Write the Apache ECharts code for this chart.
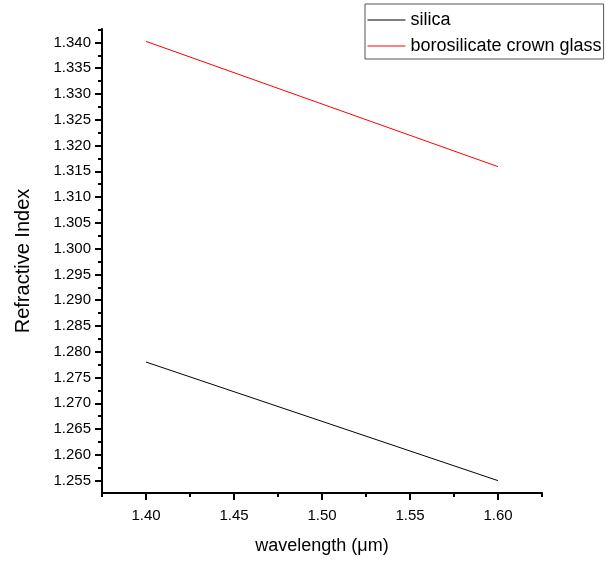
<!DOCTYPE html>
<html>
<head>
<meta charset="utf-8">
<script src="https://cdn.jsdelivr.net/npm/echarts@6/dist/echarts.min.js"></script>
<style>html,body{margin:0;padding:0;background:#fff}#c{width:606px;height:566px}</style>
</head>
<body>
<div id="c"></div>
<script>
const wavelength = [1.40, 1.60];
const silica = [1.278, 1.255];
const borosilicate = [1.3402, 1.3159];
const xMajorTicks = [1.40, 1.45, 1.50, 1.55, 1.60];
const xMinorTicks = [1.375, 1.425, 1.475, 1.525, 1.575, 1.625];
const yMajorTicks = [1.255, 1.260, 1.265, 1.270, 1.275, 1.280, 1.285, 1.290, 1.295, 1.300, 1.305, 1.310, 1.315, 1.320, 1.325, 1.330, 1.335, 1.340];
const yMinorTicks = [1.2525, 1.2575, 1.2625, 1.2675, 1.2725, 1.2775, 1.2825, 1.2875, 1.2925, 1.2975, 1.3025, 1.3075, 1.3125, 1.3175, 1.3225, 1.3275, 1.3325, 1.3375, 1.3425];
const xRange = [1.375, 1.625];
const yRange = [1.2526, 1.3426];

const font = 'Liberation Sans, Arial, sans-serif';
const chart = echarts.init(document.getElementById('c'), null, {renderer: 'canvas'});
const lineAxis = {show: true, lineStyle: {color: '#000', width: 2}};
chart.setOption({
  animation: false,
  backgroundColor: '#fff',
  grid: {left: 102, right: 64, top: 29, bottom: 73},
  legend: {
    orient: 'vertical', left: 365, top: 4,
    padding: [6, 2, 3, 2],
    borderColor: '#555', borderWidth: 1,
    itemWidth: 38, itemHeight: 20, itemGap: 6,
    itemStyle: {opacity: 0},
    lineStyle: {width: 1},
    textStyle: {fontFamily: font, fontSize: 18, color: '#000', lineHeight: 20},
    data: ['silica', 'borosilicate crown glass']
  },
  xAxis: [
    {
      type: 'value', min: xRange[0], max: xRange[1],
      name: 'wavelength (μm)', nameLocation: 'middle', nameGap: 44,
      nameTextStyle: {fontFamily: font, fontSize: 18, color: '#000'},
      axisLine: lineAxis,
      axisTick: {show: true, inside: false, length: 7, customValues: xMajorTicks, lineStyle: {color: '#000', width: 2}},
      axisLabel: {customValues: xMajorTicks, formatter: v => v.toFixed(2), fontFamily: font, fontSize: 15, color: '#000', margin: 15},
      splitLine: {show: false}
    },
    {
      type: 'value', min: xRange[0], max: xRange[1], position: 'bottom',
      axisLine: {show: false},
      axisTick: {show: true, inside: false, length: 4, customValues: xMinorTicks, lineStyle: {color: '#000', width: 2}},
      axisLabel: {show: false},
      splitLine: {show: false}
    }
  ],
  yAxis: [
    {
      type: 'value', min: yRange[0], max: yRange[1],
      name: 'Refractive Index', nameLocation: 'middle', nameGap: 69,
      nameTextStyle: {fontFamily: font, fontSize: 20, color: '#000'},
      axisLine: lineAxis,
      axisTick: {show: true, inside: false, length: 7, customValues: yMajorTicks, lineStyle: {color: '#000', width: 2}},
      axisLabel: {customValues: yMajorTicks, formatter: v => v.toFixed(3), fontFamily: font, fontSize: 15, color: '#000', margin: 11},
      splitLine: {show: false}
    },
    {
      type: 'value', min: yRange[0], max: yRange[1], position: 'left',
      axisLine: {show: false},
      axisTick: {show: true, inside: false, length: 4, customValues: yMinorTicks, lineStyle: {color: '#000', width: 2}},
      axisLabel: {show: false},
      splitLine: {show: false}
    }
  ],
  series: [
    {
      name: 'silica', type: 'line', symbol: 'none', xAxisIndex: 0, yAxisIndex: 0,
      lineStyle: {color: '#000', width: 1}, itemStyle: {color: '#000'},
      data: wavelength.map((w, i) => [w, silica[i]])
    },
    {
      name: 'borosilicate crown glass', type: 'line', symbol: 'none', xAxisIndex: 0, yAxisIndex: 0,
      lineStyle: {color: '#ff0000', width: 1}, itemStyle: {color: '#ff0000'},
      data: wavelength.map((w, i) => [w, borosilicate[i]])
    }
  ]
});
</script>
</body>
</html>
